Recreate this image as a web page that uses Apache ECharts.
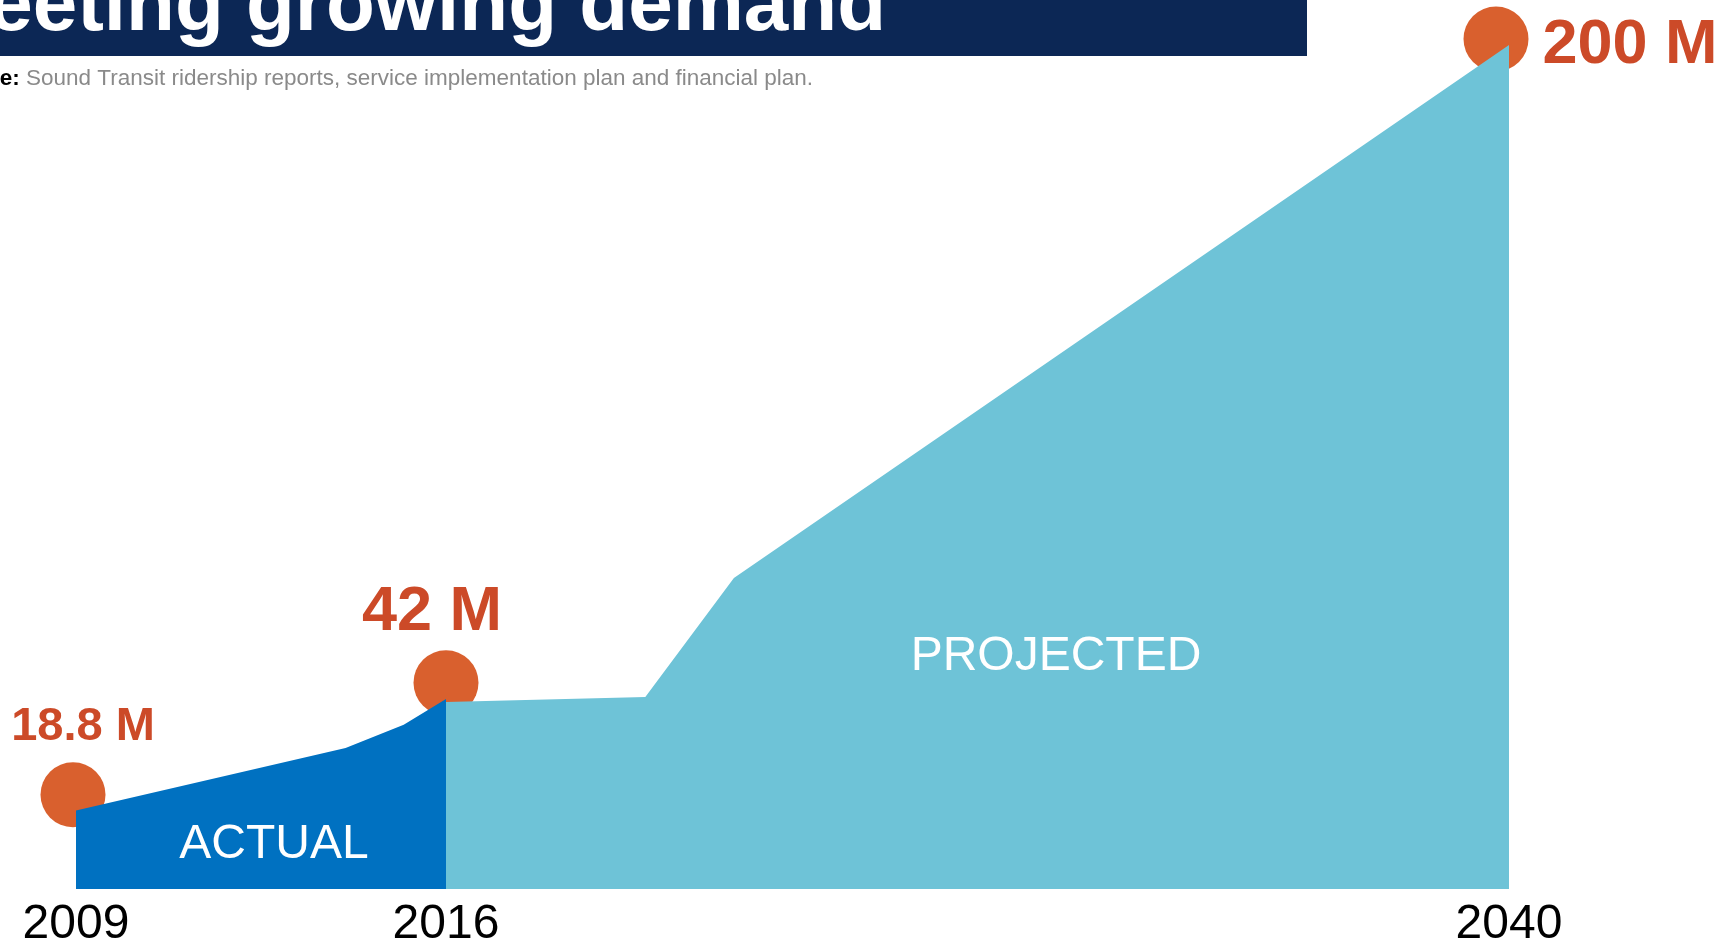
<!DOCTYPE html>
<html>
<head>
<meta charset="utf-8">
<title>Meeting growing demand</title>
<script src="https://cdn.jsdelivr.net/npm/echarts@6/dist/echarts.min.js"></script>
<style>
    html, body { margin: 0; padding: 0; background: #fff; }
    #chart { width: 1733px; height: 943px; }
</style>
</head>
<body>
<div id="chart"></div>
<script>
    // ridership in millions
    var actualYears = [2009, 2014.1, 2015.2, 2016];
    var actualRiders = [18.6, 33.4, 38.9, 45];
    var projectedYears = [2016, 2020.5, 2022.5, 2040];
    var projectedRiders = [44.3, 45.5, 73.7, 200];

    var markerYears = [2009, 2016, 2040];
    var markerRiders = [18.8, 42, 200];
    var markerLabels = ['18.8 M', '42 M', '200 M'];

    var font = "'Liberation Sans', Arial, sans-serif";
    var orange = '#d9602e';
    var labelRed = '#cc4a28';

    function pairs(xs, ys) {
        return xs.map(function (x, i) { return [x, ys[i]]; });
    }

    var chart = echarts.init(document.getElementById('chart'));

    var yAxisBase = {
        type: 'value',
        min: 0,
        max: 200,
        show: false
    };
    var xLabel = {
        fontFamily: font,
        fontSize: 48,
        color: '#000',
        margin: 12,
        formatter: function (v) { return String(v); }
    };

    var option = {
        animation: false,
        grid: [
            {left: 76, width: 370, top: 45, bottom: 54, outerBoundsMode: 'none', containLabel: false},
            {left: 446, width: 1063, top: 45, bottom: 54, outerBoundsMode: 'none', containLabel: false}
        ],
        xAxis: [
            {
                type: 'value', gridIndex: 0, min: 2009, max: 2016, interval: 7,
                axisLine: {show: false}, axisTick: {show: false}, splitLine: {show: false},
                axisLabel: xLabel
            },
            {
                type: 'value', gridIndex: 1, min: 2016, max: 2040, interval: 24,
                axisLine: {show: false}, axisTick: {show: false}, splitLine: {show: false},
                axisLabel: Object.assign({}, xLabel, {showMinLabel: false})
            }
        ],
        yAxis: [
            Object.assign({gridIndex: 0}, yAxisBase),
            Object.assign({gridIndex: 1}, yAxisBase)
        ],
        series: [
            {
                name: 'Actual',
                type: 'line',
                xAxisIndex: 0, yAxisIndex: 0,
                data: pairs(actualYears, actualRiders),
                symbol: 'none',
                lineStyle: {width: 0},
                areaStyle: {color: '#0071c1', opacity: 1}
            },
            {
                name: 'Projected',
                type: 'line',
                xAxisIndex: 1, yAxisIndex: 1,
                data: pairs(projectedYears, projectedRiders),
                symbol: 'none',
                lineStyle: {width: 0},
                areaStyle: {color: '#6ec3d7', opacity: 1}
            },
            {
                type: 'scatter',
                xAxisIndex: 0, yAxisIndex: 0,
                clip: false,
                symbolSize: 65,
                itemStyle: {color: orange, opacity: 1},
                label: {
                    show: true,
                    position: 'inside',
                    fontFamily: font,
                    fontWeight: 'bold',
                    color: labelRed
                },
                data: [
                    {
                        value: [markerYears[0], markerRiders[0]],
                        symbolOffset: [-3, -15],
                        label: {formatter: markerLabels[0], fontSize: 47, offset: [10, -68]}
                    },
                    {
                        value: [markerYears[1], markerRiders[1]],
                        symbolOffset: [0, -29],
                        label: {formatter: markerLabels[1], fontSize: 63, offset: [-14, -70]}
                    }
                ]
            },
            {
                type: 'scatter',
                xAxisIndex: 1, yAxisIndex: 1,
                clip: false,
                symbolSize: 65,
                itemStyle: {color: orange, opacity: 1},
                data: [
                    {
                        value: [markerYears[2], markerRiders[2]],
                        symbolOffset: [-13, -6],
                        label: {
                            show: true,
                            formatter: markerLabels[2],
                            position: 'right',
                            distance: 14,
                            offset: [0, 7],
                            fontFamily: font,
                            fontWeight: 'bold',
                            fontSize: 63,
                            color: labelRed
                        }
                    }
                ]
            }
        ],
        graphic: [
            {
                type: 'rect',
                shape: {x: 0, y: 0, width: 1307, height: 56},
                style: {fill: '#0c2755'},
                z: 10
            },
            {
                type: 'text',
                x: 886, y: 8,
                style: {
                    text: 'Meeting growing demand',
                    font: 'bold 80px ' + font,
                    fill: '#fff',
                    align: 'right',
                    verticalAlign: 'middle'
                },
                z: 11
            },
            {
                type: 'text',
                x: -64, y: 79,
                style: {
                    text: '{b|Source:} Sound Transit ridership reports, service implementation plan and financial plan.',
                    font: '22.5px ' + font,
                    fill: '#8a8a8a',
                    verticalAlign: 'middle',
                    rich: {
                        b: {fontFamily: font, fontSize: 22.5, fontWeight: 'bold', fill: '#000'}
                    }
                },
                z: 11
            },
            {
                type: 'text',
                x: 274, y: 845,
                style: {
                    text: 'ACTUAL',
                    font: '48px ' + font,
                    fill: '#fff',
                    align: 'center',
                    verticalAlign: 'middle'
                },
                z: 11
            },
            {
                type: 'text',
                x: 1056, y: 657,
                style: {
                    text: 'PROJECTED',
                    font: '48px ' + font,
                    fill: '#fff',
                    align: 'center',
                    verticalAlign: 'middle'
                },
                z: 11
            }
        ]
    };

    chart.setOption(option);
</script>
</body>
</html>
